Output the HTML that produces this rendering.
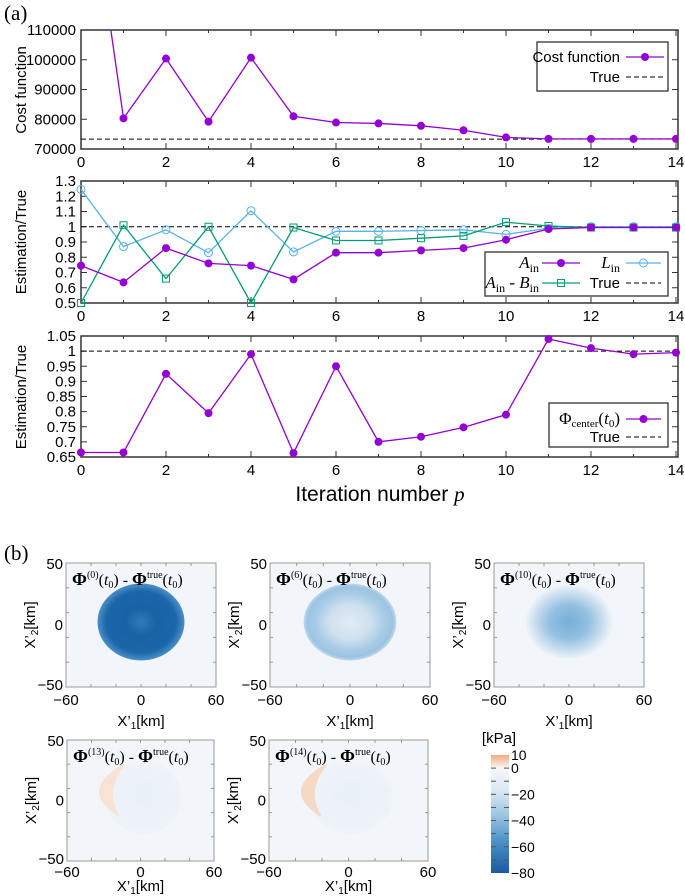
<!DOCTYPE html>
<html><head><meta charset="utf-8"><style>
html,body{margin:0;padding:0;background:#fff;}
svg{display:block;font-family:"Liberation Sans",sans-serif;}
.t{font-size:15px;fill:#000;}
.s{font-family:"Liberation Serif",serif;}
</style></head><body>
<svg id="fig" width="685" height="896" viewBox="0 0 685 896" xmlns="http://www.w3.org/2000/svg">
<defs>
<clipPath id="c1"><rect x="81" y="30" width="597" height="119"/></clipPath>
<radialGradient id="g0"><stop offset="0" stop-color="#2f7cbb"/><stop offset="0.35" stop-color="#1a62a6"/><stop offset="0.8" stop-color="#1b65a9"/><stop offset="1" stop-color="#4a90c8"/></radialGradient>
<radialGradient id="g6"><stop offset="0" stop-color="#e2ecf6"/><stop offset="0.45" stop-color="#cfe0ef"/><stop offset="0.75" stop-color="#a6cbe6"/><stop offset="0.92" stop-color="#9bc4e2"/><stop offset="1" stop-color="#c2d9ee"/></radialGradient>
<radialGradient id="g10"><stop offset="0" stop-color="#76afd9"/><stop offset="0.45" stop-color="#93bfe1"/><stop offset="0.8" stop-color="#cde0f0"/><stop offset="1" stop-color="#eef4fa"/></radialGradient>
<radialGradient id="gf"><stop offset="0" stop-color="#e9f0f8"/><stop offset="1" stop-color="#eef3f9"/></radialGradient>
<linearGradient id="cb" x1="0" y1="0" x2="0" y2="1">
<stop offset="0" stop-color="#f6a77c"/><stop offset="0.11" stop-color="#f7f7f7"/><stop offset="0.3" stop-color="#dbe8f3"/><stop offset="0.5" stop-color="#9fc8e3"/><stop offset="0.72" stop-color="#4f93c7"/><stop offset="1" stop-color="#1a5aa0"/></linearGradient>
</defs>
<text x="4" y="20" class="s" font-size="21">(a)</text>
<text x="4" y="560" class="s" font-size="21">(b)</text>
<g id="charts"></g>
<g id="maps"></g>
<text x="380" y="501" font-size="21" text-anchor="middle">Iteration number <tspan class="s" font-style="italic">p</tspan></text>
</svg>
<script>
const iters=[0,1,2,3,4,5,6,7,8,9,10,11,12,13,14];
const costVals=[180000,80300,100400,79200,100700,81000,78900,78600,77800,76300,73900,73400,73400,73400,73400];
const costTrue=73300;
const aInVals=[0.745,0.635,0.86,0.76,0.745,0.655,0.83,0.83,0.845,0.86,0.915,0.985,0.995,0.995,0.995];
const lInVals=[1.245,0.87,0.98,0.83,1.105,0.835,0.97,0.97,0.975,0.98,0.95,0.99,1.0,1.0,1.0];
const abVals=[0.5,1.01,0.66,1.0,0.5,0.995,0.91,0.91,0.925,0.94,1.03,1.005,0.995,0.995,0.995];
const phiVals=[0.665,0.665,0.925,0.795,0.99,0.663,0.95,0.70,0.717,0.748,0.79,1.04,1.01,0.99,0.995];
const ratioTrue=1;
const costTicks=[70000,80000,90000,100000,110000];
const ratioTicks=[0.5,0.6,0.7,0.8,0.9,1,1.1,1.2,1.3];
const phiTicks=[0.65,0.7,0.75,0.8,0.85,0.9,0.95,1,1.05];
const xTicks=[0,2,4,6,8,10,12,14];

const NS="http://www.w3.org/2000/svg";
function mk(tag,attrs,parent){const e=document.createElementNS(NS,tag);for(const k in attrs)e.setAttribute(k,attrs[k]);parent.appendChild(e);return e;}
const charts=document.getElementById('charts');
const X0=81,X1=678;
function px(p){return X0+(p-0)*(676-X0)/14;}
const PUR="#9400d3",LB="#56b4e9",GR="#009e73";

function panel(name,top,bot,lo,hi,ticks,fmt,ylabel,ylabelY){
  const g=mk('g',{},charts);
  
  
  const py=v=>top+(hi-v)/(hi-lo)*(bot-top);
  const fr=mk('rect',{x:X0,y:top,width:X1-X0,height:bot-top,fill:'none',stroke:'#333','stroke-width':1.5},g);
  
  
  ticks.forEach(v=>{
    const y=py(v);
    mk('line',{x1:X0,x2:X0+6,y1:y,y2:y,stroke:'#333'},g);
    mk('line',{x1:X1,x2:X1-6,y1:y,y2:y,stroke:'#333'},g);
    const t=mk('text',{x:X0-5,y:y+5,'text-anchor':'end',class:'t'},g);
    t.textContent=fmt(v);
    
    
  });
  iters.forEach(p=>{const x=px(p);const L=p%2===0?6:3;
    mk('line',{x1:x,x2:x,y1:bot,y2:bot-L,stroke:'#333'},g);
    mk('line',{x1:x,x2:x,y1:top,y2:top+L,stroke:'#333'},g);});
  xTicks.forEach(p=>{
    const t=mk('text',{x:px(p),y:bot+18,'text-anchor':'middle',class:'t'},g);
    t.textContent=p;
    
    
  });
  const yl=mk('text',{x:0,y:0,'text-anchor':'middle','font-size':15,transform:`translate(26,${ylabelY}) rotate(-90)`},g);
  yl.textContent=ylabel;
  
  
  return {g,py};
}
function series(g,py,vals,color,marker,name,clip){
  const sg=mk('g',clip?{'clip-path':'url(#c1)'}:{},g);
  
  
  const pts=vals.map((v,i)=>px(iters[i])+','+py(v)).join(' ');
  mk('polyline',{points:pts,fill:'none',stroke:color,'stroke-width':1.3},sg);
  vals.forEach((v,i)=>{
    const x=px(iters[i]),y=py(v);let m;
    if(marker==='fc')m=mk('circle',{cx:x,cy:y,r:4,fill:color},sg);
    else if(marker==='oc')m=mk('circle',{cx:x,cy:y,r:4,fill:'none',stroke:color,'stroke-width':1},sg);
    else m=mk('rect',{x:x-3.5,y:y-3.5,width:7,height:7,fill:'none',stroke:color,'stroke-width':1},sg);
    
    
  });
}
function trueLine(g,py,v){
  const l=mk('line',{x1:X0,x2:X1,y1:py(v),y2:py(v),stroke:'#000','stroke-dasharray':'5,3','stroke-width':1},g);
  
  
}
function legendBox(g,x,y,w,h){
  const r=mk('rect',{x,y,width:w,height:h,fill:'#fff',stroke:'#333','stroke-width':1.3},g);
  
  
}
function legSample(g,x1,x2,y,color,marker,dashed){
  mk('line',{x1,x2,y1:y,y2:y,stroke:color,'stroke-width':dashed?1:1.3,'stroke-dasharray':dashed?'5,3':'none'},g);
  const m=(x1+x2)/2;
  if(marker==='fc')mk('circle',{cx:m,cy:y,r:4,fill:color},g);
  if(marker==='oc')mk('circle',{cx:m,cy:y,r:4,fill:'none',stroke:color},g);
  if(marker==='sq')mk('rect',{x:m-3.5,y:y-3.5,width:7,height:7,fill:'none',stroke:color},g);
}
function legText(g,x,y,html,extra){
  const t=mk('text',Object.assign({x,y,'text-anchor':'end','font-size':15},extra||{}),g);
  t.innerHTML=html;
  
  
}

const p1=panel('cost-function-chart',30,149,70000,110000,costTicks,v=>v,'Cost function',90);
trueLine(p1.g,p1.py,costTrue);
series(p1.g,p1.py,costVals,PUR,'fc','cost-series',true);
legendBox(p1.g,537,42,131,49);
legText(p1.g,620,62,'Cost function');legSample(p1.g,626,664,57,PUR,'fc');
legText(p1.g,620,82,'True');legSample(p1.g,626,664,77,'#000',null,true);

const p2=panel('parameter-ratio-chart',181,303,0.5,1.3,ratioTicks,v=>v,'Estimation/True',242);
trueLine(p2.g,p2.py,ratioTrue);
series(p2.g,p2.py,lInVals,LB,'oc','l-in-series');
series(p2.g,p2.py,abVals,GR,'sq','a-minus-b-series');
series(p2.g,p2.py,aInVals,PUR,'fc','a-in-series');
legendBox(p2.g,485,252,183,44);
legText(p2.g,539,268,'<tspan class="s" font-style="italic" font-size="17">A</tspan><tspan class="s" font-size="12" dy="4">in</tspan>');
legSample(p2.g,542,580,263,PUR,'fc');
legText(p2.g,620,268,'<tspan class="s" font-style="italic" font-size="17">L</tspan><tspan class="s" font-size="12" dy="4">in</tspan>');
legSample(p2.g,626,661,263,LB,'oc');
legText(p2.g,539,288,'<tspan class="s" font-style="italic" font-size="17">A</tspan><tspan class="s" font-size="12" dy="4">in</tspan><tspan class="s" font-size="17" dy="-4"> - </tspan><tspan class="s" font-style="italic" font-size="17">B</tspan><tspan class="s" font-size="12" dy="4">in</tspan>');
legSample(p2.g,542,580,283,GR,'sq');
legText(p2.g,620,288,'True');legSample(p2.g,626,661,283,'#000',null,true);

const p3=panel('phi-center-chart',336,457,0.65,1.05,phiTicks,v=>v,'Estimation/True',397);
trueLine(p3.g,p3.py,ratioTrue);
series(p3.g,p3.py,phiVals,PUR,'fc','phi-center-series');
legendBox(p3.g,549,403,119,44);
legText(p3.g,620,424,'<tspan class="s" font-size="17">Φ</tspan><tspan class="s" font-size="11" dy="3">center</tspan><tspan class="s" font-size="17" dy="-3">(</tspan><tspan class="s" font-style="italic" font-size="17">t</tspan><tspan class="s" font-size="11" dy="3">0</tspan><tspan class="s" font-size="17" dy="-3">)</tspan>');
legSample(p3.g,626,661,419,PUR,'fc');
legText(p3.g,620,442,'True');legSample(p3.g,626,661,437,'#000',null,true);

const maps=document.getElementById('maps');
function mapPanel(x0,y0,w,h,kind,sup,tickOff,labOff){
  const g=mk('g',{},maps);
  
  
  mk('rect',{x:x0,y:y0,width:w,height:h,fill:'#f2f6fb'},g);
  const cx=x0+w/2,cy=y0+h/2-3;
  if(kind==='k0')mk('ellipse',{cx,cy,rx:w*0.29,ry:h*0.31,fill:'url(#g0)'},g);
  if(kind==='k6')mk('ellipse',{cx,cy,rx:w*0.29,ry:h*0.31,fill:'url(#g6)'},g);
  if(kind==='k10')mk('ellipse',{cx,cy,rx:w*0.29,ry:h*0.3,fill:'url(#g10)'},g);
  if(kind==='k13'||kind==='k14'){
    mk('ellipse',{cx:cx+3,cy,rx:w*0.26,ry:h*0.3,fill:'url(#gf)'},g);
    const col=kind==='k13'?'#f7e2d4':'#f5d9c4';
    const d=`M${x0+57},${y0+25} Q${x0+12},${y0+50} ${x0+51},${y0+75} Q${x0+36},${y0+50} ${x0+57},${y0+25}Z`;
    mk('path',{d,fill:col,stroke:col,'stroke-width':2,'stroke-linejoin':'round'},g);
  }
  mk('rect',{x:x0,y:y0,width:w,height:h,fill:'none',stroke:'#999'},g);
  for(let i=1;i<6;i++){const x=x0+w*i/6;mk('line',{x1:x,x2:x,y1:y0+h,y2:y0+h-3,stroke:'#999'},g);mk('line',{x1:x,x2:x,y1:y0,y2:y0+3,stroke:'#999'},g);}
  for(let i=1;i<5;i++){const y=y0+h*i/5;mk('line',{x1:x0,x2:x0+3,y1:y,y2:y,stroke:'#999'},g);mk('line',{x1:x0+w,x2:x0+w-3,y1:y,y2:y,stroke:'#999'},g);}
  const lab=mk('text',{x:x0+6,y:y0+22,'font-size':16,class:'s'},g);
  lab.innerHTML=`<tspan font-weight="bold" font-size="18">Φ</tspan><tspan font-size="10" dy="-7">(${sup})</tspan><tspan dy="7">(</tspan><tspan font-style="italic">t</tspan><tspan font-size="10" dy="3">0</tspan><tspan dy="-3">) - </tspan><tspan font-weight="bold" font-size="18">Φ</tspan><tspan font-size="10" dy="-7">true</tspan><tspan dy="7">(</tspan><tspan font-style="italic">t</tspan><tspan font-size="10" dy="3">0</tspan><tspan dy="-3">)</tspan>`;
  
  
  [[50,y0+6],[0,y0+h/2+5],['−50',y0+h+3]].forEach(([v,y])=>{
    const t=mk('text',{x:x0-3,y,'text-anchor':'end','font-size':15},g);t.textContent=v;
    
    
  });
  [['−60',x0],[0,x0+w/2],[60,x0+w]].forEach(([v,x])=>{
    const t=mk('text',{x,y:y0+h+tickOff,'text-anchor':'middle','font-size':15},g);t.textContent=v;
    
    
  });
  const xl=mk('text',{x:x0+w/2,y:y0+h+labOff,'text-anchor':'middle','font-size':15},g);
  xl.innerHTML='X’<tspan font-size="10" dy="3">1</tspan><tspan dy="-3">[km]</tspan>';
  
  
  const yl=mk('text',{x:0,y:0,'text-anchor':'middle','font-size':15,transform:`translate(${x0-31},${y0+h/2}) rotate(-90)`},g);
  yl.innerHTML='X’<tspan font-size="10" dy="3">2</tspan><tspan dy="-3">[km]</tspan>';
  
  
}
mapPanel(66,563,150,124,'k0','0',18,39);
mapPanel(270,563,160,124,'k6','6',18,39);
mapPanel(494,563,150,124,'k10','10',18,39);
mapPanel(67,740,147,121,'k13','13',16,30);
mapPanel(269,740,159,121,'k14','14',16,30);

const cbg=mk('g',{},maps);


mk('rect',{x:491,y:755,width:18,height:118,fill:'url(#cb)'},cbg);
const cbTicks=[10,0,-20,-40,-60,-80];
const cby=v=>755+(10-v)/90*118;
for(let v=0;v>-80;v-=10){const y=cby(v);mk('line',{x1:491,x2:496,y1:y,y2:y,stroke:'#555'},cbg);mk('line',{x1:504,x2:509,y1:y,y2:y,stroke:'#555'},cbg);}
cbTicks.forEach(v=>{const t=mk('text',{x:511,y:cby(v)+5,'font-size':14},cbg);t.textContent=v<0?'−'+(-v):v;
  
  });
const kp=mk('text',{x:499,y:743,'text-anchor':'middle','font-size':15},cbg);kp.textContent='[kPa]';


</script>
</body></html>
